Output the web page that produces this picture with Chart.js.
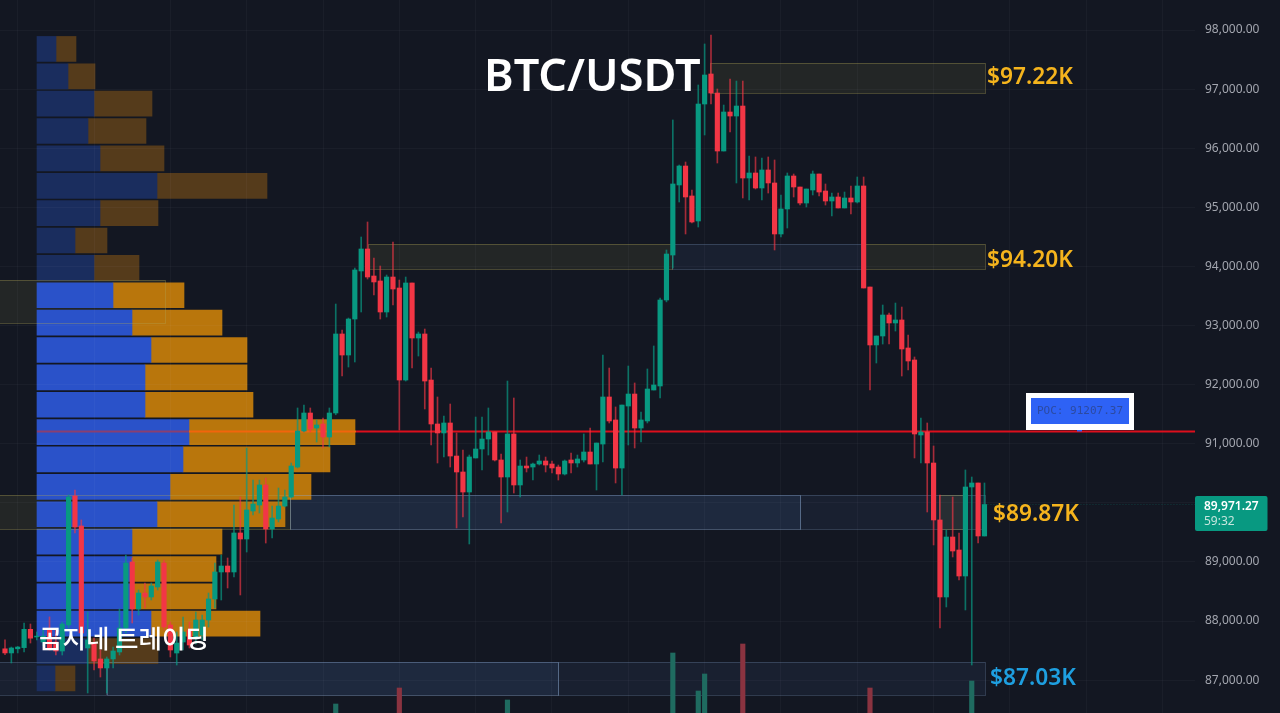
<!DOCTYPE html>
<html><head><meta charset="utf-8">
<style>
html,body{margin:0;padding:0;background:#131722;overflow:hidden}
canvas{position:absolute;left:0;top:0}
</style>
<script src="https://cdn.jsdelivr.net/npm/chart.js@4/dist/chart.umd.min.js"></script>
</head><body>
<canvas id="profile" width="1280" height="713"></canvas>
<canvas id="candles" width="1280" height="713"></canvas>
<script>
const opens=[87530,87460,87530,87550,87860,87730,87645,87850,87645,87493,
87933,90116,89608,87544,87628,87358,87206,87358,87476,87882,
88999,88204,88474,88407,88576,88982,87933,87459,87645,87848,
87713,87764,88018,88373,88830,88931,88830,89490,89388,89862,
89963,90302,89557,89726,89946,90099,90606,91215,91520,91266,
91334,91114,91520,92857,92501,93110,93923,94295,93838,93754,
93229,93821,93635,92078,93720,92789,92857,92078,91334,91182,
91351,90792,90522,90183,90759,90911,91080,91199,90725,90437,
91165,90302,90623,90606,90657,90708,90657,90606,90488,90725,
90674,90725,90860,90657,90995,91791,91402,90589,91638,91841,
91266,91385,91909,91977,93432,94193,95378,95699,95192,94769,
96748,97256,96934,95953,96613,96545,96714,95496,95581,95327,
95632,95412,94549,94972,95530,95344,95073,95293,95564,95276,
95107,95175,94989,95158,95090,95361,93652,92671,92823,93178,
93043,93094,92620,92417,91148,91199,90674,89710,88407,89422,
89202,88762,90268,90336,89439];
const closes=[87460,87544,87560,87860,87710,87745,87745,87544,87493,87950,
90099,89591,87798,87679,87324,87206,87358,87493,87882,88982,
88204,88474,88407,88593,88999,87899,87510,87628,87815,87595,
88018,88018,88373,88830,88931,88830,89490,89388,89879,89980,
90302,89557,89743,89946,90099,90623,91215,91520,91249,91317,
91114,91520,92857,92501,93110,93940,94295,93821,93737,93229,
93821,93618,92078,93720,92789,92857,92061,91334,91182,91351,
90792,90522,90183,90776,90911,91080,91199,90725,90437,91165,
90302,90623,90590,90657,90708,90640,90590,90488,90708,90674,
90742,90860,90657,91012,91791,91385,90589,91655,91841,91266,
91402,91926,91994,93432,94210,95395,95699,95175,94752,96748,
97239,96934,95953,96613,96545,96714,95496,95581,95327,95632,
95412,94549,94972,95530,95344,95073,95310,95564,95259,95107,
95175,94989,95158,95090,95361,93635,92671,92823,93178,93043,
93094,92603,92400,91165,91199,90674,89710,88407,89422,89185,
88762,90268,90336,89439,89971.27];
const highs=[87680,87560,87570,87967,87950,87815,87850,88070,87850,87984,
90133,90217,89710,88153,87713,87510,87392,87561,88204,89117,
89067,88525,88644,88644,89033,89033,87984,87815,88068,87984,
88153,88102,88474,88982,89117,89067,89963,90099,90928,90386,
90386,90420,89946,90251,90217,90674,91605,91655,91605,91402,
91435,91605,93364,92924,93127,93973,94498,94752,94143,94007,
93855,94413,93770,93821,93720,92890,92941,92281,91791,91469,
91672,91182,90894,90809,91452,91452,91605,91199,90826,92061,
91774,90725,90775,90674,90809,90775,90708,90640,90725,90843,
90809,91165,91266,91012,92501,92281,91622,91655,92315,92028,
91537,92265,92654,93466,94278,96478,95716,95767,95293,97070,
97764,97916,97002,96731,97171,97137,97137,95868,95852,95835,
95852,95801,95209,95581,95564,95344,95310,95615,95564,95395,
95242,95242,95259,95361,95513,95513,93652,92823,93347,93212,
93381,93313,92840,92468,91435,91351,90962,90133,89540,90099,
89490,90556,90437,90336,90336];
const lows=[87430,87290,87460,87476,87628,87680,87578,87510,87425,87425,
87882,89490,87679,86783,87172,87053,86783,87206,87425,87798,
87967,88102,88221,88356,88525,87848,87392,87256,87510,87544,
87611,87679,87899,88221,88356,88559,88745,88441,89168,89794,
89828,89320,89405,89676,89929,90082,90589,91199,91199,91029,
90928,90945,91490,92146,92298,92383,93229,93787,93517,93110,
93144,93347,91232,92061,92281,92484,91588,90979,90674,90776,
90606,89574,89760,89304,90759,90556,90809,90708,89659,89845,
90166,90099,90522,90386,90640,90522,90505,90386,90471,90505,
90606,90691,90657,90217,90691,91351,90336,90133,90979,90928,
91029,91351,91909,91774,93400,93973,95090,94549,94735,94667,
96224,96748,95750,95953,96275,95412,95158,95124,95310,95124,
95242,94278,94498,94650,95175,95039,95006,95209,95192,95039,
94853,94989,94989,94887,95073,93635,91909,92366,92687,92687,
92907,92146,92248,90759,90674,89845,89287,87882,88238,89084,
88694,88187,87256,89320,89439];

const volumeCandles=[52,62,79,105,109,110,116,136,152];
const volumes=[9,25,13,60,22,39,69,25,32];

const profileLevels=[97680,97217,96754,96291,95828,95364,94901,94438,93975,93512,93049,92586,92123,91660,91197,90734,90270,89807,89344,88881,88418,87955,87492,87029];
const profileBuy=[19,31,57,51,63,120,63,38,57,76,95,114,108,108,152,146,133,120,95,95,95,114,51,18];
const profileSell=[20,27,58,58,64,110,58,32,45,71,90,96,102,108,166,147,141,128,90,84,84,109,70,20];
const profileDimRows=[0,1,2,3,4,5,6,7,8,22,23];

const yTicks=[87000,88000,89000,90000,91000,92000,93000,94000,95000,96000,97000,98000];
const gridCandles=[2,14,26,38,50,62,74,86,98,110,122,134,146,158,170,182];

const pocPrice=91207.37;
const lastPrice=89971.27;
const countdown="59:32";

const zoneStart=[110.85,57.08,104.9,134.75,-0.9,-0.9,44.8,125,146.9,-0.9,16,86.95];
const zoneEnd=[154.1,104.9,134.75,154.1,25.16,44.8,125,154.1,150.6,16,86.95,154.1];
const zoneTop=[97442,94380,94380,94380,93770,90133,90133,90133,90133,87307,87307,87307];
const zoneBottom=[96934,93957,93957,93957,93043,89557,89557,89557,89557,86749,86749,86749];
const zoneKind=["olive","olive","faint","olive","olive","olive","blue","faint","olive","faint","blue","faint"];

const X_MIN=-0.786, X_MAX=187.1, Y_MIN=86444, Y_MAX=98508;
const zoneStyles={
  olive:{fill:"rgba(125,125,70,0.15)",line:"rgba(175,165,85,0.34)"},
  blue:{fill:"rgba(75,115,175,0.2)",line:"rgba(140,170,210,0.4)"},
  faint:{fill:"rgba(75,115,175,0.1)",line:"rgba(125,155,195,0.28)"}
};
const GREEN="#089981", RED="#f23645";

const zoneFills={
  id:"zoneFills",
  beforeDatasetsDraw(chart){
    const {ctx,scales:{xCandle,y}}=chart;
    ctx.save();
    zoneStart.forEach((s,i)=>{
      const l=xCandle.getPixelForValue(s),r=xCandle.getPixelForValue(zoneEnd[i]);
      const t=y.getPixelForValue(zoneTop[i]),b=y.getPixelForValue(zoneBottom[i]);
      ctx.fillStyle=zoneStyles[zoneKind[i]].fill;ctx.fillRect(l,t,r-l,b-t);
    });
    ctx.restore();
  }
};

new Chart(document.getElementById("profile"),{
  type:"bar",
  data:{datasets:[
    {label:"Buy",data:profileLevels.map((y,i)=>({y,x:profileBuy[i]})),
     backgroundColor:c=>profileDimRows.includes(c.dataIndex)?"#1a2d5e":"#2a52c9",barThickness:25,borderWidth:0},
    {label:"Sell",data:profileLevels.map((y,i)=>({y,x:profileSell[i]})),
     backgroundColor:c=>profileDimRows.includes(c.dataIndex)?"#553b1b":"#b9760c",barThickness:25,borderWidth:0}
  ]},
  options:{
    indexAxis:"y",responsive:false,animation:false,devicePixelRatio:1,
    layout:{padding:{right:85},autoPadding:false},
    plugins:{legend:{display:false},tooltip:{enabled:false}},
    scales:{
      x:{type:"linear",stacked:true,min:-37,max:1158,display:false,offset:false},
      xCandle:{type:"linear",axis:"x",min:X_MIN,max:X_MAX,display:false,offset:false},
      y:{type:"linear",stacked:true,min:Y_MIN,max:Y_MAX,display:false,offset:false}
    }
  },
  plugins:[zoneFills]
});

const overlay={
  id:"overlay",
  beforeDatasetsDraw(chart){
    const {ctx,scales:{x,y}}=chart;
    ctx.save();
    zoneStart.forEach((s,i)=>{
      const l=x.getPixelForValue(s),r=x.getPixelForValue(zoneEnd[i]);
      const t=y.getPixelForValue(zoneTop[i]),b=y.getPixelForValue(zoneBottom[i]);
      ctx.strokeStyle=zoneStyles[zoneKind[i]].line;ctx.lineWidth=1;
      ctx.strokeRect(Math.round(l)+.5,Math.round(t)+.5,Math.round(r-l),Math.round(b-t));
    });
    ctx.restore();
  },
  afterDatasetsDraw(chart){
    const {ctx,scales:{x,y}}=chart;
    ctx.save();
    ctx.textBaseline="alphabetic";ctx.textAlign="left";
    ctx.fillStyle="#ffffff";
    ctx.font="600 45px 'Noto Sans'";
    ctx.fillText("BTC/USDT",484,91);
    ctx.font="500 25.5px 'Noto Sans CJK KR'";
    ctx.fillText("곰지네 트레이딩",39,648);
    ctx.font="600 22.7px 'Noto Sans'";
    ctx.fillStyle="#f5b41d";
    ctx.fillText("$97.22K",987,84);
    ctx.fillText("$94.20K",987,267);
    ctx.fillText("$89.87K",993,521);
    ctx.fillStyle="#1e9fe0";
    ctx.fillText("$87.03K",990,685);
    const py=y.getPixelForValue(pocPrice);
    ctx.fillStyle="#ffffff";ctx.fillRect(1026,393,108,37);
    ctx.fillStyle="#2e62f5";ctx.fillRect(1031,398,98,26);
    ctx.fillRect(1077,430,5,py-430);
    ctx.fillStyle="#2c4aa0";ctx.font="11px 'DejaVu Sans Mono'";ctx.textAlign="center";
    ctx.fillText("POC: "+pocPrice,1080,414);
    ctx.textAlign="left";
    ctx.fillStyle=GREEN;
    ctx.beginPath();ctx.roundRect(1195,496,72.5,35,2);ctx.fill();
    ctx.fillStyle="#ffffff";ctx.font="600 12px 'Noto Sans'";
    ctx.fillText(lastPrice.toLocaleString("en-US",{minimumFractionDigits:2}),1204,510);
    ctx.fillStyle="#c6e6de";ctx.font="12px 'Noto Sans'";
    ctx.fillText(countdown,1204,525);
    ctx.restore();
  }
};

const candleIdx=opens.map((_,i)=>i);
new Chart(document.getElementById("candles"),{
  type:"bar",
  data:{datasets:[
    {type:"bar",label:"Bodies",order:0,grouped:false,barThickness:4.5,borderWidth:0,
     data:candleIdx.map(i=>({x:i,y:[opens[i],closes[i]]})),
     backgroundColor:c=>closes[c.dataIndex]>=opens[c.dataIndex]?GREEN:RED},
    {type:"bar",label:"Wicks",order:1,grouped:false,barThickness:1,borderWidth:0,
     data:candleIdx.map(i=>({x:i,y:[lows[i],highs[i]]})),
     backgroundColor:c=>closes[c.dataIndex]>=opens[c.dataIndex]?"rgba(8,153,129,0.7)":"rgba(242,54,69,0.65)"},
    {type:"line",label:"POC blue",order:2,borderColor:"#8a3f70",borderWidth:2,pointRadius:0,
     data:[{x:5.03,y:pocPrice},{x:28.9,y:pocPrice}]},
    {type:"line",label:"POC orange",order:2,borderColor:"#f2650c",borderWidth:2,pointRadius:0,
     data:[{x:28.9,y:pocPrice},{x:55.2,y:pocPrice}]},
    {type:"line",label:"POC",order:2,borderColor:"#dd0f1c",borderWidth:2,pointRadius:0,
     data:[{x:55.2,y:pocPrice},{x:187.1,y:pocPrice}]},
    {type:"line",label:"Last",order:3,borderColor:"rgba(8,153,129,0.3)",borderWidth:1,borderDash:[1,2],pointRadius:0,
     data:[{x:154,y:lastPrice},{x:187.1,y:lastPrice}]},
    {type:"bar",label:"Volume",order:4,grouped:false,yAxisID:"yVol",barThickness:4.5,borderWidth:0,
     data:volumeCandles.map((c,i)=>({x:c,y:volumes[i]})),
     backgroundColor:c=>{const k=volumeCandles[c.dataIndex];return closes[k]>=opens[k]?"#1f6b60":"#8a3340";}}
  ]},
  options:{
    responsive:false,animation:false,devicePixelRatio:1,
    layout:{padding:0,autoPadding:false},
    plugins:{legend:{display:false},tooltip:{enabled:false}},
    scales:{
      x:{type:"linear",min:X_MIN,max:X_MAX,offset:false,
         afterFit(s){s.height=0;},
         afterBuildTicks(s){s.ticks=gridCandles.map(value=>({value}));},
         ticks:{display:false},border:{display:false},
         grid:{color:"rgba(235,240,250,0.035)",drawTicks:false,offset:false}},
      y:{type:"linear",position:"right",min:Y_MIN,max:Y_MAX,offset:false,
         afterFit(s){s.width=85;s.paddingTop=0;s.paddingBottom=0;},
         afterBuildTicks(s){s.ticks=yTicks.map(value=>({value}));},
         border:{display:false},
         grid:{color:"rgba(235,240,250,0.035)",drawTicks:false},
         ticks:{padding:10,color:"#a3a6af",font:{family:"'Noto Sans'",size:12},
                callback:v=>v.toLocaleString("en-US",{minimumFractionDigits:2})}},
      yVol:{type:"linear",display:false,min:0,max:713,offset:false}
    }
  },
  plugins:[overlay]
});
</script>
</body></html>
